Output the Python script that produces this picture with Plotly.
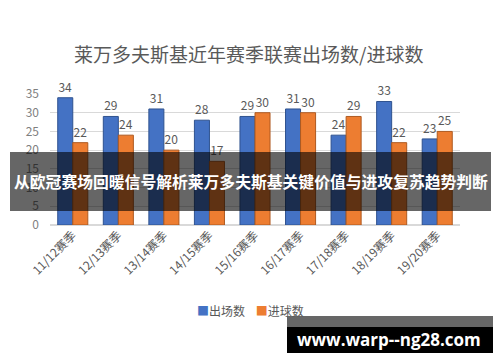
import plotly.graph_objects as go

categories = ["11/12赛季", "12/13赛季", "13/14赛季", "14/15赛季", "15/16赛季",
              "16/17赛季", "17/18赛季", "18/19赛季", "19/20赛季"]
appearances = [34, 29, 31, 28, 29, 31, 24, 33, 23]
goals = [22, 24, 20, 17, 30, 30, 29, 22, 25]
series_names = ["出场数", "进球数"]
series_colors = ["#4472C4", "#ED7D31"]
series_lines = ["#2F528F", "#AE5A21"]

title_text = "莱万多夫斯基近年赛季联赛出场数/进球数"
banner_text = "从欧冠赛场回暖信号解析莱万多夫斯基关键价值与进攻复苏趋势判断"
watermark_text = "www.warp--ng28.com"

W, H = 500, 362
L, R, T, B = 50, 40, 94, 137
PW, PH = W - L - R, H - T - B

def px(x):
    return (x - L) / PW

def py(y):
    return (H - B - y) / PH

FONT = "Noto Sans CJK SC, Noto Sans, sans-serif"

fig = go.Figure()
for vals, name, col, lc in zip([appearances, goals], series_names, series_colors, series_lines):
    fig.add_trace(go.Bar(
        x=categories, y=vals, name=name,
        marker=dict(color=col, line=dict(color=lc, width=1)),
        text=vals, textposition="outside", cliponaxis=False,
        textfont=dict(color="#595959", size=12),
    ))

legend_html = ("<span style='color:%s'>■</span>%s    <span style='color:%s'>■</span>%s"
               % (series_colors[0], series_names[0], series_colors[1], series_names[1]))

fig.update_layout(
    width=W, height=H,
    margin=dict(l=L, r=R, t=T, b=B),
    paper_bgcolor="white", plot_bgcolor="white",
    font=dict(family=FONT, color="#595959", size=12),
    barmode="group", bargap=0.34, bargroupgap=0.0,
    showlegend=False,
    xaxis=dict(tickangle=-45, tickfont=dict(size=12, color="#595959"),
               showgrid=False, showline=False, ticks=""),
    yaxis=dict(range=[0, 35], dtick=5, tickfont=dict(size=12, color="#7F7F7F"),
               gridcolor="#D9D9D9", zeroline=True, zerolinecolor="#D9D9D9",
               showline=False, ticks="", ticklabelstandoff=10),
    annotations=[
        dict(text=title_text, x=px(248), y=py(54), xref="paper", yref="paper",
             showarrow=False, font=dict(size=19, color="#595959", family=FONT),
             xanchor="center", yanchor="middle"),
        dict(text=legend_html, x=px(250), y=py(310), xref="paper", yref="paper",
             showarrow=False, font=dict(size=12, color="#595959", family=FONT),
             xanchor="center", yanchor="middle"),
        dict(text="<b>" + banner_text + "</b>", x=px(251), y=py(181), xref="paper", yref="paper",
             showarrow=False, font=dict(size=15.8, color="white", family=FONT),
             xanchor="center", yanchor="middle"),
        dict(text="<b>" + watermark_text + "</b>", x=px(389), y=py(339), xref="paper", yref="paper",
             showarrow=False, font=dict(size=17, color="white", family="Open Sans, DejaVu Sans, sans-serif"),
             xanchor="center", yanchor="middle"),
    ],
    shapes=[
        dict(type="rect", xref="paper", yref="paper", x0=px(10), x1=px(491), y0=py(211), y1=py(152),
             fillcolor="rgba(0,0,0,0.6)", line=dict(width=0), layer="above"),
        dict(type="rect", xref="paper", yref="paper", x0=px(287), x1=px(493), y0=py(327), y1=py(316),
             fillcolor="#666666", line=dict(width=0), layer="above"),
        dict(type="rect", xref="paper", yref="paper", x0=px(287), x1=px(493), y0=py(353), y1=py(327),
             fillcolor="#000000", line=dict(width=0), layer="above"),
    ],
)

fig.write_html("out.html")
